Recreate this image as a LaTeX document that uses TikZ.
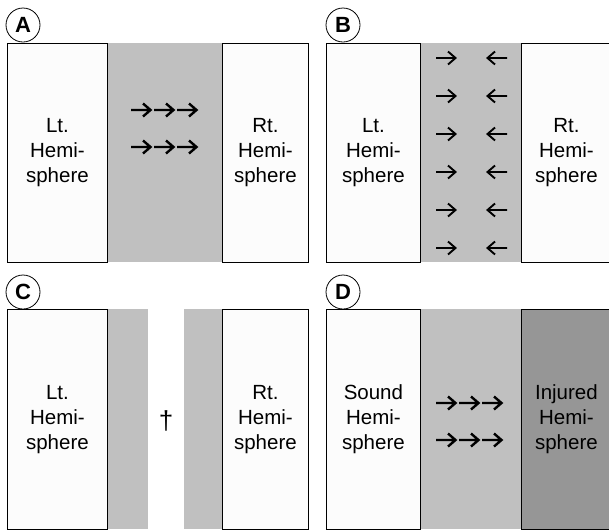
\documentclass[tikz,border=0pt]{standalone}
\usepackage{fontspec}
\setmainfont{Liberation Sans}
\definecolor{bandgray}{HTML}{C0C0C0}
\definecolor{darkgray}{HTML}{969696}
\definecolor{boxwhite}{HTML}{FCFCFC}
\begin{document}
\begin{tikzpicture}[x=1pt,y=-1pt,
  hemi/.style={draw=black, line width=0.8pt, fill=boxwhite, inner sep=0pt, align=center,
    font=\fontsize{20.5}{25}\selectfont, anchor=north west},
  band/.style={fill=bandgray, draw=none},
  lab/.style={circle, draw, line width=0.8pt, minimum size=34pt, inner sep=0pt,
    font=\bfseries\fontsize{22}{22}\selectfont},
  arr/.style={line width=2.4pt, line join=miter, line cap=butt},
  thinarr/.style={line width=1.9pt, line join=miter, line cap=butt},
  rarr/.pic={\draw[pic actions] (-10,0) -- (9,0) (2,-6.5) -- (9.5,0) -- (2,6.5);},
  larr/.pic={\draw[pic actions] (10,0) -- (-9,0) (-2,-6.5) -- (-9.5,0) -- (-2,6.5);}]
\clip (0,0) rectangle (609,531);
\fill[white] (0,0) rectangle (609,531);

% ---------- Panel A ----------
\fill[band] (107,43) rectangle (222,262);
\node[hemi, minimum width=100pt, minimum height=219pt] (aL) at (7,43) {Lt.\\Hemi-\\sphere};
\node[hemi, minimum width=86pt, minimum height=219pt] (aR) at (222,43) {Rt.\\Hemi-\\sphere};
\node[lab] (la) at (23,25) {A};
\foreach \xx in {141,164,187}{
  \foreach \yy in {110,147}{
    \pic[arr] at (\xx,\yy) {rarr};
  }
}

% ---------- Panel B ----------
\fill[band] (420,43) rectangle (521,262);
\node[hemi, minimum width=94pt, minimum height=219pt] (bL) at (326,43) {Lt.\\Hemi-\\sphere};
\node[hemi, minimum width=90pt, minimum height=219pt] (bR) at (521,43) {Rt.\\Hemi-\\sphere};
\node[lab] (lb) at (343,25) {B};
\foreach \yy in {58,96,134,172,210,248}{
  \pic[thinarr] at (446,\yy) {rarr};
  \pic[thinarr] at (497,\yy) {larr};
}

% ---------- Panel C ----------
\fill[band] (107,309) rectangle (148,529);
\fill[band] (184,309) rectangle (222,529);
\node[hemi, minimum width=100pt, minimum height=220pt] (cL) at (7,309) {Lt.\\Hemi-\\sphere};
\node[hemi, minimum width=86pt, minimum height=220pt] (cR) at (222,309) {Rt.\\Hemi-\\sphere};
\node[lab] (lc) at (23,292) {C};
\node[font=\fontsize{26}{26}\selectfont, inner sep=0pt] (dag) at (166,421) {†};

% ---------- Panel D ----------
\fill[band] (420,309) rectangle (521,529);
\node[hemi, minimum width=94pt, minimum height=220pt] (dL) at (326,309) {Sound\\Hemi-\\sphere};
\node[hemi, fill=darkgray, minimum width=90pt, minimum height=220pt] (dR) at (521,309) {Injured\\Hemi-\\sphere};
\node[lab] (ld) at (343,292) {D};
\foreach \xx in {446,469,492}{
  \foreach \yy in {403,440}{
    \pic[arr] at (\xx,\yy) {rarr};
  }
}
\end{tikzpicture}
\end{document}
